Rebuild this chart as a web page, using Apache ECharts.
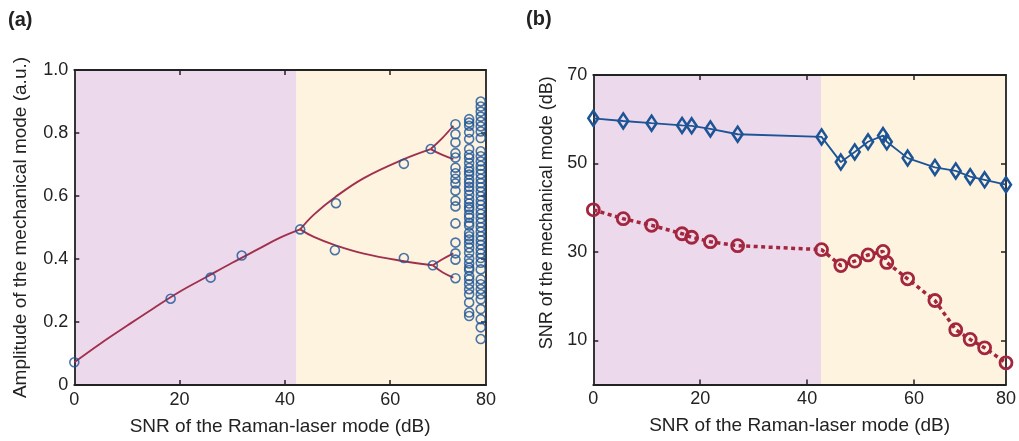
<!DOCTYPE html>
<html>
<head>
<meta charset="utf-8">
<script src="https://cdn.jsdelivr.net/npm/echarts@6/dist/echarts.min.js"></script>
<style>
html,body{margin:0;padding:0;background:#fff;}
#chart{width:1019px;height:441px;}
</style>
</head>
<body>
<div id="chart"></div>
<script>
// ---------- Panel (a) data ----------
const xMaxA = 78.2;
const boundaryA = 42.2;
const xTickValuesA = [0, 20, 40, 60, 78.2];
const xTickLabelsA = ['0', '20', '40', '60', '80'];
const yTickValuesA = [0, 0.2, 0.4, 0.6, 0.8, 1.0];
const yTickLabelsA = ['0', '0.2', '0.4', '0.6', '0.8', '1.0'];

// fitted curve (trunk and branches)
const trunkX = [0, 5, 10, 15, 20, 25, 30, 35, 39, 42.9];
const trunkY = [0.072, 0.132, 0.188, 0.243, 0.296, 0.342, 0.388, 0.432, 0.467, 0.494];
const upperX = [42.9, 45.5, 49.6, 55.0, 62.6, 67.7];
const upperY = [0.494, 0.541, 0.597, 0.657, 0.717, 0.749];
const lowerX = [42.9, 45.5, 49.5, 55.0, 62.6, 68.1];
const lowerY = [0.494, 0.470, 0.444, 0.417, 0.393, 0.380];
const branch1X = [67.7, 69.8, 72.0];
const branch1Y = [0.749, 0.782, 0.823];
const branch2X = [67.7, 69.8, 72.0];
const branch2Y = [0.749, 0.731, 0.717];
const branch3X = [68.1, 70.0, 72.0];
const branch3Y = [0.380, 0.400, 0.418];
const branch4X = [68.1, 70.0, 72.0];
const branch4Y = [0.380, 0.357, 0.341];

// measured points
const measX = [0, 18.3, 25.9, 31.8, 42.9, 49.7, 49.5, 62.6, 62.6, 67.7, 68.1];
const measY = [0.072, 0.274, 0.341, 0.411, 0.494, 0.577, 0.428, 0.702, 0.403, 0.749, 0.380];

// chaotic columns
const colAX = 72.4;
const colAY = [0.828, 0.796, 0.770, 0.736, 0.722, 0.690, 0.672, 0.655, 0.640, 0.617, 0.585, 0.567, 0.513, 0.452, 0.418, 0.398, 0.339];
const colBX = 75.0;
const colBY = [0.844, 0.833, 0.823, 0.802, 0.781, 0.749, 0.731, 0.720, 0.705, 0.689, 0.678, 0.668, 0.652, 0.641, 0.629, 0.618, 0.604, 0.589, 0.576, 0.565, 0.557, 0.541, 0.531, 0.515, 0.506, 0.483, 0.472, 0.462, 0.449, 0.436, 0.420, 0.401, 0.386, 0.372, 0.365, 0.346, 0.335, 0.320, 0.304, 0.288, 0.262, 0.230, 0.219];
const colCX = 77.2;
const colCY = [0.900, 0.884, 0.868, 0.852, 0.836, 0.821, 0.805, 0.784, 0.742, 0.726, 0.710, 0.696, 0.684, 0.670, 0.655, 0.641, 0.628, 0.614, 0.599, 0.585, 0.572, 0.557, 0.543, 0.529, 0.515, 0.501, 0.487, 0.472, 0.459, 0.445, 0.430, 0.417, 0.403, 0.388, 0.367, 0.335, 0.320, 0.304, 0.288, 0.272, 0.241, 0.209, 0.183, 0.146];

// ---------- Panel (b) data ----------
const xMaxB = 77.2;
const boundaryB = 42.6;
const xTickValuesB = [0, 20, 40, 60, 77.2];
const xTickLabelsB = ['0', '20', '40', '60', '80'];
const yTickValuesB = [10, 30, 50, 70];
const snrX = [0, 5.6, 10.9, 16.6, 18.4, 21.9, 27.0, 42.7, 46.3, 48.9, 51.4, 54.2, 54.9, 58.8, 63.9, 67.8, 70.5, 73.2, 77.2];
const blueY = [60.2, 59.6, 59.1, 58.6, 58.5, 57.8, 56.6, 56.0, 50.3, 52.6, 54.9, 56.3, 54.9, 51.2, 49.1, 48.3, 47.0, 46.3, 45.2];
const redY  = [39.5, 37.5, 36.0, 34.1, 33.3, 32.3, 31.4, 30.5, 26.9, 27.9, 29.3, 30.1, 27.6, 23.9, 19.0, 12.4, 10.2, 8.3, 4.9];

// ---------- styling ----------
const PURPLE = '#EDD9EC';
const YELLOW = '#FDF3DF';
const CURVE = '#A0304D';
const BLUE = '#1D5496';
const RED = '#A3263F';
const AXIS = '#222';
const FONT = '"Liberation Sans", Arial, sans-serif';

const zip = (xs, ys) => xs.map((x, i) => [x, ys[i]]);
const col = (x, ys) => ys.map(y => [x, y]);

function frameAxes(gridIndex, min, max, isX, pos, extra) {
  return Object.assign({
    gridIndex, type: 'value', min, max, position: pos,
    axisLine: {show: true, onZero: false, lineStyle: {color: AXIS, width: 1.8}},
    axisTick: {show: true, inside: true, length: 5, lineStyle: {color: AXIS, width: 1.5}},
    axisLabel: {show: false},
    splitLine: {show: false}
  }, extra || {});
}

const labelStyle = {color: AXIS, fontSize: 18, fontFamily: FONT, margin: 6};
const nameStyle = {color: AXIS, fontSize: 19, fontFamily: FONT};

const lineCurve = (name, xs, ys, extra) => Object.assign({
  name, type: 'line', xAxisIndex: 0, yAxisIndex: 0,
  data: zip(xs, ys), smooth: 0.4, symbol: 'none',
  lineStyle: {color: CURVE, width: 1.9}, z: 3, silent: true
}, extra || {});

const hollow = {color: 'rgba(0,0,0,0)', borderColor: BLUE, borderWidth: 1.6};

const option = {
  animation: false,
  backgroundColor: '#fff',
  textStyle: {fontFamily: FONT},
  graphic: [
    {type: 'text', left: 8, top: 10, style: {text: '(a)', font: 'bold 20px ' + FONT, fill: '#222'}},
    {type: 'text', left: 526, top: 9, style: {text: '(b)', font: 'bold 20px ' + FONT, fill: '#222'}}
  ],
  grid: [
    {left: 74.3, top: 70, width: 411.7, height: 316},
    {left: 593.3, top: 75, width: 415, height: 309.5}
  ],
  xAxis: [
    frameAxes(0, 0, xMaxA, true, 'bottom', {
      name: 'SNR of the Raman-laser mode (dB)', nameLocation: 'middle', nameGap: 32, nameTextStyle: nameStyle,
      axisTick: {show: true, inside: true, length: 5, lineStyle: {color: AXIS, width: 1.5}, customValues: [20, 40, 60]},
      axisLabel: Object.assign({show: true, customValues: xTickValuesA,
        formatter: v => xTickLabelsA[xTickValuesA.indexOf(v)] ?? String(v)}, labelStyle)
    }),
    frameAxes(0, 0, xMaxA, true, 'top', {
      axisTick: {show: true, inside: true, length: 5, lineStyle: {color: AXIS, width: 1.5}, customValues: [20, 40, 60]}
    }),
    frameAxes(1, 0, xMaxB, true, 'bottom', {
      name: 'SNR of the Raman-laser mode (dB)', nameLocation: 'middle', nameGap: 32, nameTextStyle: nameStyle,
      axisTick: {show: true, inside: true, length: 5, lineStyle: {color: AXIS, width: 1.5}, customValues: [20, 40, 60]},
      axisLabel: Object.assign({show: true, customValues: xTickValuesB,
        formatter: v => xTickLabelsB[xTickValuesB.indexOf(v)] ?? String(v)}, labelStyle)
    }),
    frameAxes(1, 0, xMaxB, true, 'top', {
      axisTick: {show: true, inside: true, length: 5, lineStyle: {color: AXIS, width: 1.5}, customValues: [20, 40, 60]}
    })
  ],
  yAxis: [
    frameAxes(0, 0, 1, false, 'left', {
      interval: 0.2,
      name: 'Amplitude of the mechanical mode (a.u.)', nameLocation: 'middle', nameGap: 44, nameTextStyle: nameStyle,
      axisLabel: Object.assign({show: true,
        formatter: v => { const i = yTickValuesA.findIndex(t => Math.abs(t - v) < 1e-6); return i >= 0 ? yTickLabelsA[i] : String(v); }}, labelStyle)
    }),
    frameAxes(0, 0, 1, false, 'right', {interval: 0.2}),
    frameAxes(1, 0, 70, false, 'left', {
      name: 'SNR of the mechanical mode (dB)', nameLocation: 'middle', nameGap: 37,
      nameTextStyle: Object.assign({}, nameStyle, {fontSize: 18, padding: [0, 0, 0, 34]}),
      axisTick: {show: true, inside: true, length: 5, lineStyle: {color: AXIS, width: 1.5}, customValues: yTickValuesB},
      axisLabel: Object.assign({show: true, customValues: yTickValuesB}, labelStyle)
    }),
    frameAxes(1, 0, 70, false, 'right', {
      axisTick: {show: true, inside: true, length: 5, lineStyle: {color: AXIS, width: 1.5}, customValues: yTickValuesB}
    })
  ],
  series: [
    // panel (a)
    lineCurve('trunk', trunkX, trunkY, {
      markArea: {silent: true, z: 0, data: [
        [{xAxis: 0, itemStyle: {color: PURPLE}}, {xAxis: boundaryA}],
        [{xAxis: boundaryA, itemStyle: {color: YELLOW}}, {xAxis: xMaxA}]
      ]}
    }),
    lineCurve('upper', upperX, upperY),
    lineCurve('lower', lowerX, lowerY),
    lineCurve('b1', branch1X, branch1Y),
    lineCurve('b2', branch2X, branch2Y),
    lineCurve('b3', branch3X, branch3Y),
    lineCurve('b4', branch4X, branch4Y),
    {type: 'scatter', xAxisIndex: 0, yAxisIndex: 0, data: zip(measX, measY), symbol: 'circle', symbolSize: 9, itemStyle: hollow, z: 5, silent: true},
    {type: 'scatter', xAxisIndex: 0, yAxisIndex: 0, data: col(colAX, colAY), symbol: 'circle', symbolSize: 9, itemStyle: hollow, z: 5, silent: true},
    {type: 'scatter', xAxisIndex: 0, yAxisIndex: 0, data: col(colBX, colBY), symbol: 'circle', symbolSize: 9, itemStyle: hollow, z: 5, silent: true},
    {type: 'scatter', xAxisIndex: 0, yAxisIndex: 0, data: col(colCX, colCY), symbol: 'circle', symbolSize: 9, itemStyle: hollow, z: 5, silent: true},
    // panel (b)
    {
      type: 'line', xAxisIndex: 2, yAxisIndex: 2, data: zip(snrX, blueY),
      symbol: 'diamond', symbolSize: [10, 15], showAllSymbol: true,
      lineStyle: {color: BLUE, width: 1.8},
      itemStyle: {color: 'rgba(0,0,0,0)', borderColor: BLUE, borderWidth: 2.6},
      z: 4, silent: true,
      markArea: {silent: true, z: 0, data: [
        [{xAxis: 0, itemStyle: {color: PURPLE}}, {xAxis: boundaryB}],
        [{xAxis: boundaryB, itemStyle: {color: YELLOW}}, {xAxis: xMaxB}]
      ]}
    },
    {
      type: 'line', xAxisIndex: 2, yAxisIndex: 2, data: zip(snrX, redY),
      symbol: 'circle', symbolSize: 12, showAllSymbol: true,
      lineStyle: {color: RED, width: 3.5, type: [4, 3.5]},
      itemStyle: {color: 'rgba(0,0,0,0)', borderColor: RED, borderWidth: 2.8},
      z: 4, silent: true
    }
  ]
};

const chart = echarts.init(document.getElementById('chart'), null, {renderer: 'canvas'});
chart.setOption(option);
</script>
</body>
</html>
